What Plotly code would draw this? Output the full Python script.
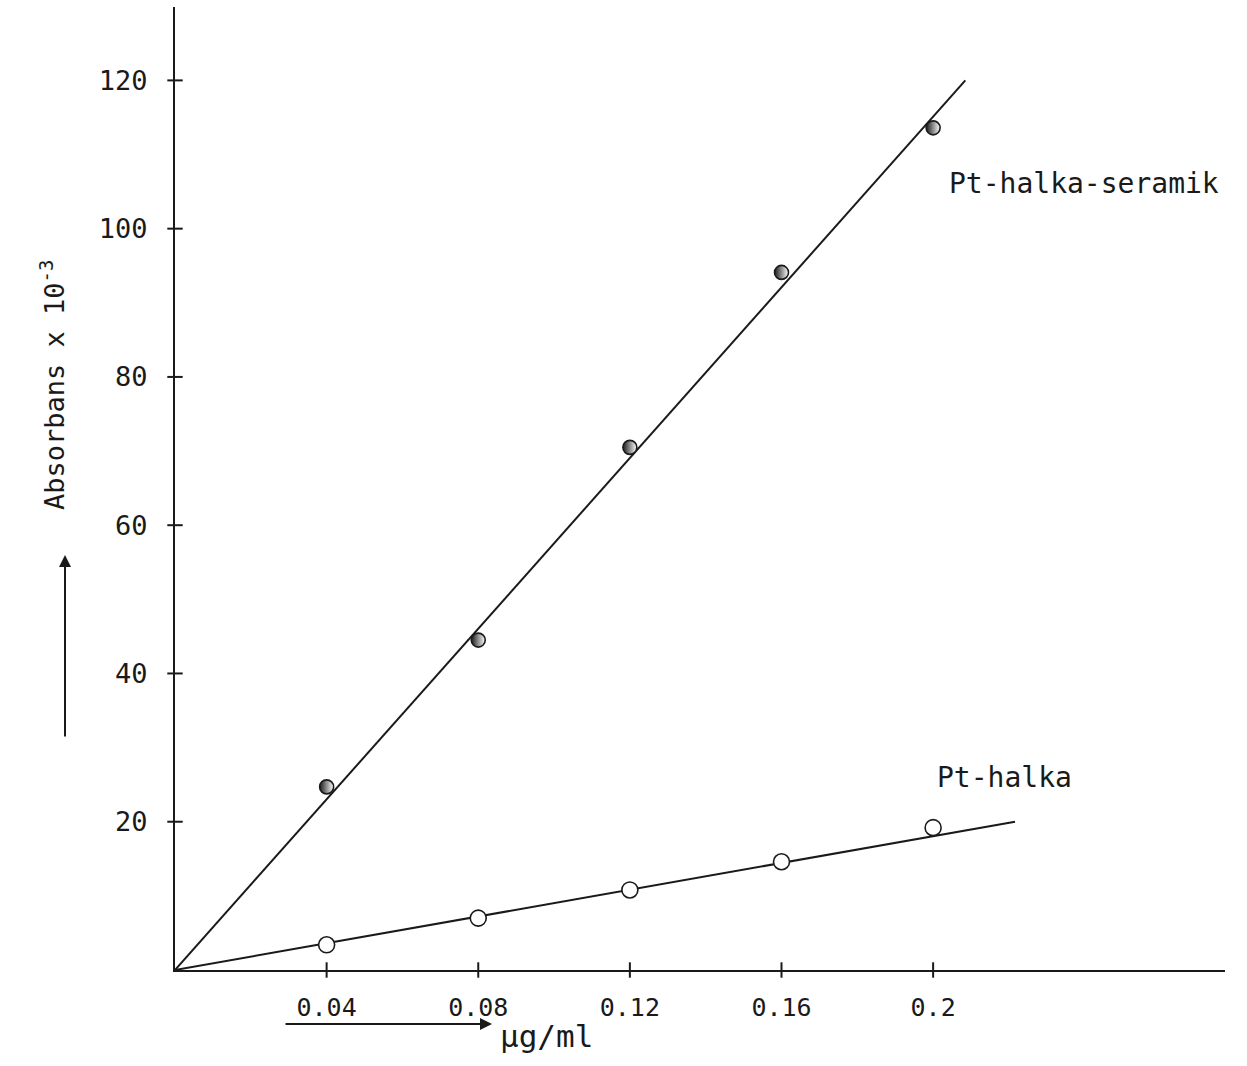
import plotly.graph_objects as go

# Calibration data: concentration (µg/ml) vs absorbance (x10^-3)
conc = [0.04, 0.08, 0.12, 0.16, 0.2]
abs_seramik = [24.7, 44.5, 70.5, 94.1, 113.6]
abs_halka = [3.4, 7.0, 10.8, 14.6, 19.2]

# Drawn calibration lines (through the origin)
fit_seramik_x = [0.0, 0.2085]
fit_seramik_y = [0.0, 120.0]
fit_halka_x = [0.0, 0.2216]
fit_halka_y = [0.0, 20.0]

x_tickvals = [0.04, 0.08, 0.12, 0.16, 0.2]
x_ticktext = ["0.04", "0.08", "0.12", "0.16", "0.2"]
y_tickvals = [20, 40, 60, 80, 100, 120]
y_ticktext = ["20", "40", "60", "80", "100", "120"]

FONT = "DejaVu Sans Mono"
INK = "#1a1a1a"

W, H = 1247, 1066
L, R, T, B = 175, 22, 7, 96
PW, PH = W - L - R, H - T - B
X_MAX = 0.277
Y_MAX = 129.9


def px(xp):
    return (xp - L) / PW


def py(yp):
    return (H - B - yp) / PH


fig = go.Figure()

fig.add_trace(go.Scatter(x=fit_seramik_x, y=fit_seramik_y, mode="lines",
                         line=dict(color=INK, width=2), showlegend=False,
                         hoverinfo="skip"))
fig.add_trace(go.Scatter(x=fit_halka_x, y=fit_halka_y, mode="lines",
                         line=dict(color=INK, width=2), showlegend=False,
                         hoverinfo="skip"))

# half-shaded markers for the ceramic series
fig.add_trace(go.Scatter(
    x=conc, y=abs_seramik, mode="markers", name="Pt-halka-seramik",
    marker=dict(symbol="circle", size=14, color=INK,
                gradient=dict(type="horizontal", color="white"),
                line=dict(color=INK, width=1.6)),
    showlegend=False))
fig.add_trace(go.Scatter(
    x=conc, y=abs_halka, mode="markers", name="Pt-halka",
    marker=dict(symbol="circle", size=16, color="white",
                line=dict(color=INK, width=1.6)),
    showlegend=False))

# tick marks that cross the axis lines
fig.add_trace(go.Scatter(
    x=x_tickvals, y=[0] * len(x_tickvals), mode="markers", cliponaxis=False,
    marker=dict(symbol="line-ns", size=11, line=dict(color=INK, width=2)),
    showlegend=False, hoverinfo="skip"))
fig.add_trace(go.Scatter(
    x=[0] * len(y_tickvals), y=y_tickvals, mode="markers", cliponaxis=False,
    marker=dict(symbol="line-ew", size=11, line=dict(color=INK, width=2)),
    showlegend=False, hoverinfo="skip"))

axis_common = dict(showgrid=False, zeroline=False, showline=True,
                   linecolor=INK, linewidth=2, ticks="")

fig.update_layout(
    width=W, height=H,
    margin=dict(l=L, r=R, t=T, b=B),
    paper_bgcolor="white", plot_bgcolor="white",
    xaxis=dict(range=[0, X_MAX], tickvals=x_tickvals, ticktext=x_ticktext,
               ticklabelstandoff=14,
               tickfont=dict(family=FONT, size=25, color=INK), **axis_common),
    yaxis=dict(range=[0, Y_MAX], tickvals=y_tickvals, ticktext=y_ticktext,
               ticklabelstandoff=20,
               tickfont=dict(family=FONT, size=27, color=INK), **axis_common),
)

# series labels
fig.add_annotation(x=0.2037, y=106.1, xref="x", yref="y",
                   text="Pt-halka-seramik", showarrow=False,
                   xanchor="left", yanchor="middle",
                   font=dict(family=FONT, size=28, color=INK))
fig.add_annotation(x=0.2005, y=26.0, xref="x", yref="y",
                   text="Pt-halka", showarrow=False,
                   xanchor="left", yanchor="middle",
                   font=dict(family=FONT, size=28, color=INK))

# axis titles
fig.add_annotation(x=px(52), y=py(385), xref="paper", yref="paper",
                   text="Absorbans x 10<sup>-3</sup>", textangle=-90,
                   showarrow=False, xanchor="center", yanchor="middle",
                   font=dict(family=FONT, size=27, color=INK))
fig.add_annotation(x=px(498), y=py(1036), xref="paper", yref="paper",
                   text="µg/ml", showarrow=False,
                   xanchor="left", yanchor="middle",
                   font=dict(family=FONT, size=31, color=INK))

# direction arrows beside the titles
fig.add_annotation(x=px(65), y=py(555), xref="paper", yref="paper",
                   ax=0, ay=183, text="", showarrow=True, arrowhead=2,
                   arrowsize=1.2, arrowwidth=2, arrowcolor=INK)
fig.add_annotation(x=px(492), y=py(1024), xref="paper", yref="paper",
                   ax=-208, ay=0, text="", showarrow=True, arrowhead=2,
                   arrowsize=1.2, arrowwidth=2, arrowcolor=INK)

fig.write_html("out.html")
